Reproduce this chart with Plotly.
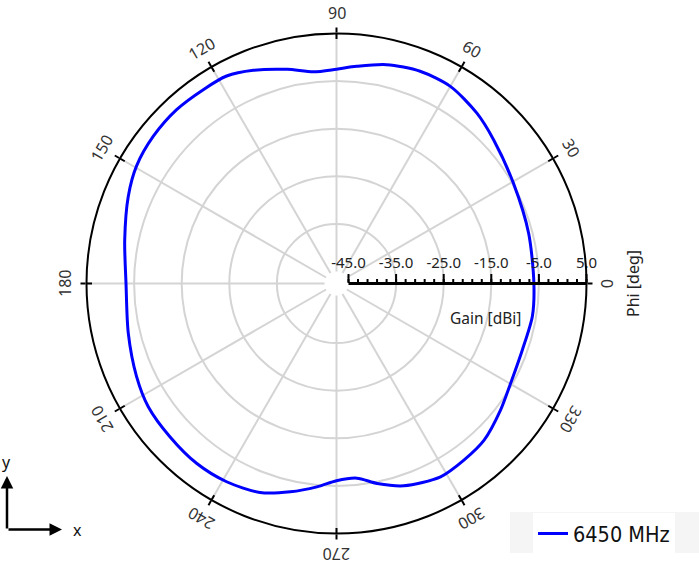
import numpy as np
import plotly.graph_objects as go

# ---- data ----
phi_deg = [0, 14.6, 29.5, 42.4, 50.5, 60, 68.5, 77.1, 84.7, 90, 96.2, 103, 111.3,
           117.9, 124.5, 132.6, 141.2, 149.6, 157.3, 168.4, 180, 193.4, 204.9,
           213.2, 222.6, 232.2, 241, 249.9, 257.5, 264.5, 270, 276, 281.5, 288.4,
           298.3, 305.8, 313.3, 322.4, 330.2, 340.4, 350.5, 360]
gain_dbi = [-6.05, -5.8, -4.8, -2.8, -1.15, 0.3, 0.4, -0.35, -1.7, -2.5, -2.8, -1.35, 0.55,
            1.8, 1.9, 2.1, 1.85, 1.2, -0.1, -2.1, -3.3, -2.55, -1.2,
            -0.26, 0.03, 0.35, 0.1, -0.77, -2.7, -4.6, -6.1, -6.4, -4.66, -2.74,
            -1.4, -1.77, -2.3, -4.0, -5.36, -6.06, -5.8, -6.05]
series_name = "6450 MHz"

radial_range = [-45, 5]
radial_major = [-45, -35, -25, -15, -5, 5]
radial_labels = ["-45.0", "-35.0", "-25.0", "-15.0", "-5.0", "5.0"]
radial_minor = list(range(-45, 6, 2))
angular_ticks = list(range(0, 360, 30))

# ---- geometry ----
W, H = 699, 565
CX, CY, R = 336.5, 283.5, 250
HOLE = 12 / R
FONT = "Noto Sans"
LEG_FONT = "Liberation Sans Narrow, DejaVu Sans Condensed, Noto Sans"

dom_x = [(CX - R) / W, (CX + R) / W]
dom_y = [(H - CY - R) / H, (H - CY + R) / H]

fig = go.Figure()
fig.add_trace(go.Scatterpolar(
    r=gain_dbi, theta=phi_deg, mode="lines", name=series_name,
    line=dict(color="#0000ff", width=3, shape="spline", smoothing=0.8),
    subplot="polar"))
# helper traces so the overlay subplots (minor ticks / outer ring) are rendered
for sp in ("polar2", "polar3"):
    fig.add_trace(go.Scatterpolar(
        r=[radial_range[0]], theta=[0], mode="markers", marker=dict(opacity=0),
        showlegend=False, hoverinfo="skip", subplot=sp))

grid_col = "#d4d4d4"
fig.update_layout(
    width=W, height=H, margin=dict(l=0, r=0, t=0, b=0),
    paper_bgcolor="white", font=dict(family=FONT, color="#222"),
    polar=dict(
        domain=dict(x=dom_x, y=dom_y), hole=HOLE, bgcolor="white",
        radialaxis=dict(range=radial_range, tickvals=radial_major, ticktext=radial_labels,
                        angle=0, side="counterclockwise", showline=True,
                        linecolor="black", linewidth=3, ticks="outside", ticklen=8,
                        tickwidth=2, tickcolor="black", gridcolor=grid_col, gridwidth=1.5,
                        tickfont=dict(size=15, color="#222", family=FONT),
                        layer="above traces"),
        angularaxis=dict(tickvals=angular_ticks, direction="counterclockwise", rotation=0,
                         showticklabels=False, ticks="", showline=False,
                         gridcolor=grid_col, gridwidth=1.5)),
    polar2=dict(
        domain=dict(x=dom_x, y=dom_y), hole=HOLE, bgcolor="rgba(0,0,0,0)",
        radialaxis=dict(range=radial_range, tickvals=radial_minor, angle=0,
                        side="counterclockwise", showline=False, showgrid=False,
                        showticklabels=False, ticks="outside", ticklen=4, tickwidth=1.5,
                        tickcolor="black"),
        angularaxis=dict(tickvals=angular_ticks, direction="counterclockwise", rotation=0,
                         showticklabels=False, showline=False, showgrid=False,
                         ticks="inside", ticklen=5, tickcolor="black", tickwidth=1.5)),
    polar3=dict(
        domain=dict(x=dom_x, y=dom_y), hole=0, bgcolor="rgba(0,0,0,0)",
        radialaxis=dict(range=radial_range, visible=False),
        angularaxis=dict(tickvals=angular_ticks, direction="counterclockwise", rotation=0,
                         showticklabels=False, showline=True, linecolor="black",
                         linewidth=2, showgrid=False, ticks="outside", ticklen=5,
                         tickcolor="black", tickwidth=1.5)),
    legend=dict(x=533 / W, y=1 - 513 / H, xanchor="left", yanchor="top",
                bgcolor="white", font=dict(size=21.5, family=LEG_FONT, color="#111")),
    showlegend=True,
)

# legend backdrop
fig.add_shape(type="rect", xref="paper", yref="paper",
              x0=510 / W, x1=1.0, y0=1 - 553 / H, y1=1 - 512 / H,
              fillcolor="#f5f5f5", line=dict(width=0), layer="below")

ann = []
LR = R + 21
for a in angular_ticks:
    t = np.deg2rad(a)
    px = CX + LR * np.cos(t)
    py = CY - LR * np.sin(t)
    ann.append(dict(x=px / W, y=1 - py / H, xref="paper", yref="paper", text=str(a),
                    showarrow=False, textangle=90 - a, xanchor="center", yanchor="middle",
                    font=dict(size=16, color="#333", family=FONT)))
ann.append(dict(x=486 / W, y=1 - 318 / H, xref="paper", yref="paper", text="Gain [dBi]",
                showarrow=False, xanchor="center", yanchor="middle",
                font=dict(size=15.5, color="#222", family=FONT)))
ann.append(dict(x=633 / W, y=1 - 284 / H, xref="paper", yref="paper", text="Phi [deg]",
                showarrow=False, textangle=-90, xanchor="center", yanchor="middle",
                font=dict(size=16, color="#222", family=FONT)))
# xy orientation indicator
ann.append(dict(x=7 / W, y=1 - 476 / H, xref="paper", yref="paper", text="",
                showarrow=True, ax=0, ay=54, arrowhead=2, arrowsize=1, arrowwidth=2.5,
                arrowcolor="black"))
ann.append(dict(x=62 / W, y=1 - 529.5 / H, xref="paper", yref="paper", text="",
                showarrow=True, ax=-55, ay=0, arrowhead=2, arrowsize=1, arrowwidth=2.5,
                arrowcolor="black"))
ann.append(dict(x=6 / W, y=1 - 462 / H, xref="paper", yref="paper", text="y",
                showarrow=False, xanchor="center", yanchor="middle",
                font=dict(size=16, color="#111", family=FONT)))
ann.append(dict(x=77 / W, y=1 - 530 / H, xref="paper", yref="paper", text="x",
                showarrow=False, xanchor="center", yanchor="middle",
                font=dict(size=16, color="#111", family=FONT)))
fig.update_layout(annotations=ann)

fig.write_html("out.html", config={"displayModeBar": False})

# remove the default page margin so the figure sits at the window origin
with open("out.html", encoding="utf-8") as f:
    html = f.read()
html = html.replace("<body>", '<body style="margin:0;overflow:hidden">', 1)
with open("out.html", "w", encoding="utf-8") as f:
    f.write(html)
